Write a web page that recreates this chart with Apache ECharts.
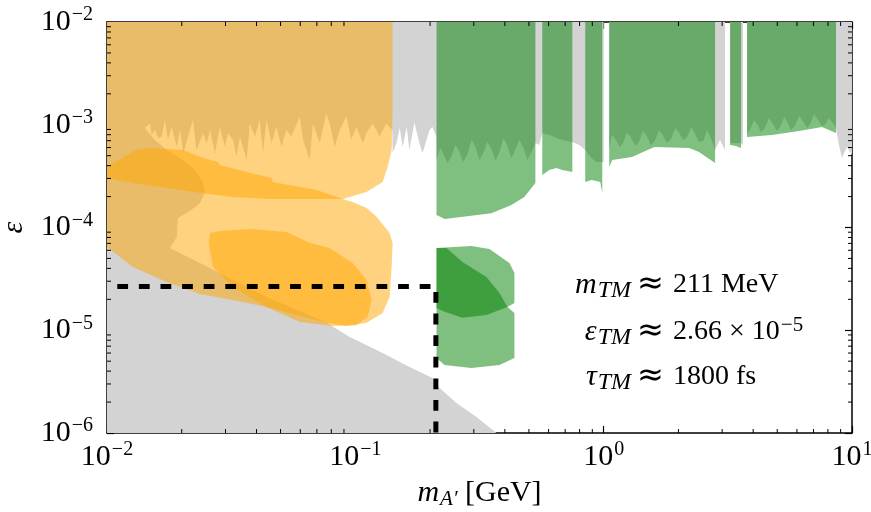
<!DOCTYPE html>
<html>
<head>
<meta charset="utf-8">
<script src="https://cdn.jsdelivr.net/npm/echarts@6.0.0/dist/echarts.min.js"></script>
<style>
html, body { margin: 0; padding: 0; background: #fff; }
#chart { width: 871px; height: 512px; }
</style>
</head>
<body>
<div id="chart"></div>
<script>
// excluded region (grey): upper band with ragged edge + low-mass wedge
var grayExcluded = [
    [0.01, 1e-2], [10, 1e-2], [10, 5.08e-4], [9.54, 6.07e-4], [9.11, 4.75e-4], [8.86, 6.35e-4],
    [8.62, 9.30e-4], [8.33, 1.05e-3], [8.07, 1.16e-3], [7.80, 1.01e-3], [7.57, 9.73e-4], [7.28, 1.12e-3], [7.03, 1.27e-3],
    [6.80, 1.02e-3], [6.59, 9.30e-4], [6.35, 1.08e-3], [6.12, 1.22e-3], [5.90, 9.80e-4], [5.68, 8.89e-4], [5.50, 1.05e-3],
    [5.33, 1.19e-3], [5.15, 9.60e-4], [4.99, 8.69e-4], [4.80, 1.02e-3], [4.63, 1.16e-3], [4.45, 9.20e-4], [4.30, 8.50e-4],
    [4.16, 1.00e-3], [4.03, 1.11e-3], [3.90, 9.10e-4],
    [3.78, 8.13e-4], [3.78, 1e-2], [3.64, 1e-2], [3.64, 6.35e-4], [3.575, 6.65e-4], [3.23, 6.65e-4],
    [3.23, 1e-2], [3.08, 1e-2], [3.08, 5.68e-4], [2.94, 7.10e-4], [2.81, 5.68e-4], [2.70, 7.40e-4], [2.61, 8.89e-4],
    [2.52, 7.00e-4], [2.42, 6.80e-4], [2.33, 8.20e-4], [2.25, 9.51e-4], [2.17, 7.60e-4], [2.09, 7.10e-4], [2.01, 8.40e-4],
    [1.94, 9.30e-4], [1.87, 7.30e-4], [1.80, 6.65e-4], [1.73, 7.90e-4], [1.67, 8.89e-4], [1.61, 7.00e-4], [1.55, 6.35e-4],
    [1.49, 7.80e-4], [1.44, 8.69e-4], [1.39, 6.80e-4], [1.34, 6.21e-4], [1.29, 7.50e-4], [1.24, 8.31e-4], [1.20, 6.70e-4],
    [1.16, 6.07e-4], [1.12, 7.10e-4], [1.08, 7.95e-4],
    [1.05, 5.68e-4], [1.05, 1e-2], [1.0, 1e-2], [1.0, 4.34e-4], [0.934, 4.34e-4], [0.892, 4.75e-4],
    [0.843, 5.68e-4], [0.798, 6.35e-4], [0.748, 6.80e-4], [0.682, 7.10e-4], [0.645, 7.43e-4], [0.604, 7.95e-4],
    [0.566, 8.31e-4], [0.55, 6.35e-4], [0.531, 6.65e-4], [0.512, 5.40e-4], [0.493, 4.54e-4], [0.475, 6.00e-4],
    [0.458, 7.10e-4], [0.441, 5.70e-4], [0.425, 4.75e-4], [0.410, 6.10e-4], [0.395, 7.43e-4], [0.381, 5.50e-4],
    [0.367, 4.44e-4], [0.353, 5.80e-4], [0.340, 6.80e-4], [0.328, 5.30e-4], [0.316, 4.54e-4], [0.305, 6.00e-4],
    [0.294, 7.10e-4], [0.283, 5.20e-4], [0.272, 4.34e-4], [0.262, 5.50e-4], [0.253, 6.35e-4], [0.244, 4.90e-4],
    [0.235, 4.24e-4], [0.227, 5.10e-4], [0.220, 5.94e-4], [0.212, 4.54e-4], [0.212, 7.60e-4], [0.2045, 9.51e-4],
    [0.199, 8.89e-4], [0.1865, 5.31e-4], [0.181, 6.65e-4], [0.173, 1.06e-3], [0.165, 5.68e-4], [0.161, 9.51e-4],
    [0.155, 6.07e-4], [0.151, 9.30e-4], [0.1466, 6.65e-4], [0.1413, 5.31e-4],
    [0.1409, 8.89e-4], [0.1332, 1.03e-3], [0.1252, 7.65e-4], [0.1177, 1.03e-3], [0.1107, 8.25e-4], [0.1073, 6.60e-4],
    [0.1009, 9.57e-4], [0.0963, 7.10e-4], [0.0920, 1.20e-3], [0.0865, 8.89e-4], [0.0826, 6.11e-4], [0.0788, 1.03e-3],
    [0.0764, 1.29e-3], [0.0719, 6.60e-4], [0.0675, 1.03e-3], [0.0655, 4.54e-4], [0.0616, 7.10e-4], [0.0597, 1.20e-3],
    [0.0553, 7.65e-4], [0.0528, 8.89e-4], [0.0504, 6.11e-4], [0.0481, 9.57e-4], [0.0460, 6.60e-4], [0.0439, 1.11e-3],
    [0.0425, 5.27e-4], [0.0412, 1.11e-3], [0.0394, 7.65e-4], [0.0376, 1.03e-3], [0.0365, 4.54e-4], [0.0343, 7.65e-4],
    [0.0332, 4.89e-4], [0.0322, 7.10e-4], [0.0307, 8.25e-4], [0.0298, 6.11e-4], [0.0285, 9.57e-4], [0.0272, 5.27e-4],
    [0.0260, 8.89e-4], [0.0252, 6.60e-4], [0.0244, 8.25e-4], [0.0229, 5.68e-4], [0.0222, 1.11e-3], [0.0212, 7.65e-4],
    [0.0203, 5.27e-4], [0.0197, 8.89e-4], [0.0191, 6.11e-4], [0.0182, 9.57e-4], [0.0176, 7.10e-4], [0.0171, 1.11e-3],
    [0.0166, 7.65e-4], [0.0161, 7.40e-4], [0.0156, 8.89e-4], [0.0151, 7.95e-4], [0.0149, 1.03e-3],
    [0.0142, 9.30e-4], [0.0156, 7.10e-4], [0.0174, 5.68e-4], [0.0202, 4.54e-4], [0.0226, 3.63e-4], [0.0243, 2.77e-4],
    [0.0248, 2.22e-4], [0.0237, 1.73e-4], [0.0216, 1.45e-4], [0.0193, 1.24e-4], [0.0191, 8.08e-5], [0.0179, 6.32e-5],
    [0.0237, 4.52e-5], [0.0321, 3.08e-5], [0.0440, 2.11e-5], [0.0597, 1.54e-5], [0.0767, 1.18e-5], [0.0949, 8.60e-6],
    [0.1288, 6.01e-6], [0.1653, 4.39e-6], [0.2045, 3.43e-6], [0.2183, 2.74e-6], [0.2554, 1.96e-6], [0.3075, 1.43e-6],
    [0.370, 1e-6], [0.01, 1e-6]
];

// orange regions (drawn half transparent)
var orangeA = [
    [0.01, 1e-2], [0.1413, 1e-2], [0.1413, 1.39e-3], [0.1400, 5.68e-4], [0.1349, 3.88e-4], [0.1288, 2.77e-4],
    [0.1110, 2.22e-4], [0.0889, 1.89e-4], [0.0597, 1.89e-4], [0.0440, 1.89e-4], [0.0321, 1.98e-4],
    [0.0237, 2.17e-4], [0.0174, 2.42e-4], [0.0127, 2.71e-4], [0.01, 3.03e-4]
];
var orangeB = [
    [0.01, 3.88e-4], [0.0130, 5.68e-4], [0.0149, 5.94e-4], [0.0202, 5.68e-4], [0.0237, 4.86e-4], [0.0280, 4.34e-4],
    [0.0285, 4.06e-4], [0.0376, 3.39e-4], [0.0461, 3.03e-4], [0.0465, 2.77e-4], [0.0597, 2.48e-4], [0.0699, 2.32e-4],
    [0.0889, 1.89e-4], [0.0975, 1.77e-4], [0.1110, 1.55e-4], [0.1218, 1.27e-4], [0.1374, 8.84e-5], [0.1413, 7.07e-5],
    [0.1400, 4.13e-5], [0.1374, 2.11e-5], [0.1288, 1.47e-5], [0.1110, 1.18e-5], [0.0923, 1.10e-5], [0.0767, 1.18e-5],
    [0.0597, 1.38e-5], [0.0440, 1.68e-5], [0.0321, 1.97e-5], [0.0237, 2.25e-5], [0.0174, 2.95e-5], [0.0127, 4.13e-5],
    [0.01, 6.46e-5]
];
var orangeC = [
    [0.0260, 8.84e-5], [0.0285, 9.25e-5], [0.0376, 9.67e-5], [0.0530, 9.04e-5], [0.0655, 7.07e-5], [0.0788, 6.32e-5],
    [0.0975, 4.52e-5], [0.1110, 3.08e-5], [0.1163, 1.97e-5], [0.1121, 1.35e-5], [0.1012, 1.12e-5], [0.0810, 1.10e-5],
    [0.0597, 1.20e-5], [0.0440, 1.68e-5], [0.0321, 2.64e-5], [0.0267, 4.13e-5], [0.0257, 7.07e-5]
];

// green regions (half transparent)
var greenA = [[0.2123, 1e-2], [0.531, 1e-2], [0.531, 2.71e-4], [0.479, 1.98e-4], [0.425, 1.66e-4], [0.353, 1.38e-4], [0.229, 1.21e-4], [0.2123, 1.32e-4]];
var greenB = [[0.566, 1e-2], [0.748, 1e-2], [0.748, 3.47e-4], [0.682, 3.63e-4], [0.645, 3.79e-4], [0.604, 3.63e-4], [0.566, 3.24e-4]];
var greenC = [[0.843, 1e-2], [0.987, 1e-2], [0.987, 2.17e-4], [0.969, 2.77e-4], [0.934, 2.84e-4], [0.892, 2.90e-4], [0.843, 2.77e-4]];
var greenD = [[1.053, 1e-2], [2.81, 1e-2], [2.81, 4.24e-4], [2.42, 5.43e-4], [2.21, 5.94e-4], [1.60, 6.07e-4], [1.30, 4.86e-4], [1.083, 4.54e-4], [1.053, 3.88e-4]];
var greenE = [[3.23, 1e-2], [3.575, 1e-2], [3.575, 5.94e-4], [3.41, 6.21e-4], [3.23, 6.35e-4]];
var greenF = [[3.78, 1e-2], [8.62, 1e-2], [8.62, 8.31e-4], [7.57, 9.51e-4], [6.12, 8.69e-4], [4.76, 7.95e-4], [3.78, 7.60e-4]];
var greenBlobUp = [[0.2123, 6.32e-5], [0.2935, 6.61e-5], [0.3467, 6.18e-5], [0.4174, 4.52e-5], [0.4371, 3.61e-5], [0.4371, 1.84e-5], [0.4098, 1.68e-5], [0.3372, 1.41e-5], [0.2700, 1.32e-5], [0.2286, 1.51e-5], [0.2123, 1.65e-5]];
var greenBlobLow = [[0.2123, 6.32e-5], [0.2329, 6.32e-5], [0.2700, 4.62e-5], [0.3372, 3.30e-5], [0.3804, 2.31e-5], [0.4098, 1.68e-5], [0.4371, 1.47e-5], [0.4371, 5.37e-6], [0.3804, 4.59e-6], [0.2935, 4.29e-6], [0.2286, 4.59e-6], [0.2123, 5.37e-6]];

// true muonium point
var tmMass = 0.211;
var tmEps = 2.66e-5;
var tmLine = [[0.011, tmEps], [tmMass, tmEps], [tmMass, 1e-6]];

var xMinorTicks = [0.02, 0.03, 0.04, 0.05, 0.06, 0.07, 0.08, 0.09, 0.2, 0.3, 0.4, 0.5, 0.6, 0.7, 0.8, 0.9, 2, 3, 4, 5, 6, 7, 8, 9];
var yMinorTicks = [2e-6, 3e-6, 4e-6, 5e-6, 6e-6, 7e-6, 8e-6, 9e-6, 2e-5, 3e-5, 4e-5, 5e-5, 6e-5, 7e-5, 8e-5, 9e-5,
    2e-4, 3e-4, 4e-4, 5e-4, 6e-4, 7e-4, 8e-4, 9e-4, 2e-3, 3e-3, 4e-3, 5e-3, 6e-3, 7e-3, 8e-3, 9e-3];

var serif = 'Liberation Serif';
var GRAY = '#d3d3d3';
var ORANGE = 'rgba(255,165,0,0.5)';
var GREEN = 'rgba(0,128,0,0.5)';

function polySeries(pts, color) {
    return {
        type: 'custom',
        coordinateSystem: 'cartesian2d',
        clip: true,
        silent: true,
        data: pts,
        renderItem: function (params, api) {
            if (params.dataIndex !== 0) return null;
            return {
                type: 'polygon',
                shape: { points: pts.map(function (p) { return api.coord(p); }) },
                style: { fill: color, stroke: null }
            };
        }
    };
}

function decadeLabel(v) {
    var e = Math.round(Math.log10(v));
    return '{b|10}{s|' + (e < 0 ? '\u2212' + (-e) : e) + '}';
}

var tickRich = {
    b: { fontFamily: serif, fontSize: 30, color: '#000' },
    s: { fontFamily: serif, fontSize: 20, color: '#000', padding: [0, 0, 14, 1] }
};

function frameAxis(pos, extra) {
    var a = {
        type: 'log',
        logBase: 10,
        position: pos,
        axisLine: { show: true, onZero: false, lineStyle: { color: '#000', width: 1.5 } },
        axisTick: { show: true, inside: true, length: 7, lineStyle: { color: '#000', width: 1.2 } },
        axisLabel: { show: false },
        splitLine: { show: false },
        minorTick: { show: false }
    };
    return Object.assign(a, extra);
}

var myChart = echarts.init(document.getElementById('chart'));

var series = [
    polySeries(grayExcluded, GRAY),
    polySeries(orangeA, ORANGE),
    polySeries(orangeB, ORANGE),
    polySeries(orangeC, ORANGE),
    polySeries(greenA, GREEN),
    polySeries(greenB, GREEN),
    polySeries(greenC, GREEN),
    polySeries(greenD, GREEN),
    polySeries(greenE, GREEN),
    polySeries(greenF, GREEN),
    polySeries(greenBlobUp, GREEN),
    polySeries(greenBlobLow, GREEN),
    {
        type: 'line',
        data: tmLine,
        symbol: 'none',
        silent: true,
        z: 5,
        lineStyle: { color: '#000', width: 5, type: [10.8, 10.8] }
    },
    {
        // minor ticks on all four sides
        type: 'custom',
        coordinateSystem: 'cartesian2d',
        clip: false,
        silent: true,
        z: 6,
        data: [[0.1, 1e-4]],
        renderItem: function (params, api) {
            var kids = [];
            var st = { stroke: '#000', lineWidth: 1 };
            xMinorTicks.forEach(function (v) {
                var b = api.coord([v, 1e-6]), t = api.coord([v, 1e-2]);
                kids.push({ type: 'line', shape: { x1: b[0], y1: b[1], x2: b[0], y2: b[1] - 4 }, style: st });
                kids.push({ type: 'line', shape: { x1: t[0], y1: t[1], x2: t[0], y2: t[1] + 4 }, style: st });
            });
            yMinorTicks.forEach(function (v) {
                var l = api.coord([0.01, v]), r = api.coord([10, v]);
                kids.push({ type: 'line', shape: { x1: l[0], y1: l[1], x2: l[0] + 4, y2: l[1] }, style: st });
                kids.push({ type: 'line', shape: { x1: r[0], y1: r[1], x2: r[0] - 4, y2: r[1] }, style: st });
            });
            return { type: 'group', children: kids };
        }
    }
];

var varRich = {
    v: { fontFamily: serif, fontStyle: 'italic', fontSize: 30, color: '#000' },
    sub: { fontFamily: serif, fontStyle: 'italic', fontSize: 24, color: '#000', padding: [12, 0, 0, 1] }
};
var valRich = {
    t: { fontFamily: serif, fontSize: 28, color: '#000' },
    s: { fontFamily: serif, fontSize: 21, color: '#000', padding: [0, 0, 14, 1] }
};

function annot(y, name, value) {
    return [
        { type: 'text', x: 631, y: y, z: 10, style: { text: '{v|' + name + '}{sub|TM}', rich: varRich, align: 'right', verticalAlign: 'middle' } },
        { type: 'text', x: 637, y: y, z: 10, style: { text: '\u2248', font: '32px "DejaVu Sans"', fill: '#000', align: 'left', verticalAlign: 'middle' } },
        { type: 'text', x: 673, y: y, z: 10, style: { text: value, rich: valRich, align: 'left', verticalAlign: 'middle' } }
    ];
}

var option = {
    animation: false,
    backgroundColor: '#fff',
    grid: { left: 107, right: 19, top: 22, bottom: 79, outerBoundsMode: 'none', containLabel: false },
    xAxis: [
        frameAxis('bottom', {
            min: 0.01, max: 10,
            name: '{i|m}{sub|A\u2032}{r| [GeV]}',
            nameLocation: 'middle',
            nameGap: 44,
            nameTextStyle: {
                rich: {
                    i: { fontFamily: serif, fontStyle: 'italic', fontSize: 30, color: '#000' },
                    sub: { fontFamily: serif, fontStyle: 'italic', fontSize: 21, color: '#000', padding: [12, 0, 0, 1] },
                    r: { fontFamily: serif, fontSize: 30, color: '#000' }
                }
            },
            axisLabel: { show: true, margin: 7, formatter: decadeLabel, rich: tickRich, showMinLabel: true, showMaxLabel: true }
        }),
        frameAxis('top', { min: 0.01, max: 10 })
    ],
    yAxis: [
        frameAxis('left', {
            min: 1e-6, max: 1e-2,
            name: '\u03b5',
            nameLocation: 'middle',
            nameRotate: 90,
            nameGap: 78,
            nameTextStyle: { fontFamily: serif, fontStyle: 'italic', fontSize: 30, color: '#000' },
            axisLabel: { show: true, margin: 14, formatter: decadeLabel, rich: tickRich, showMinLabel: true, showMaxLabel: true }
        }),
        frameAxis('right', { min: 1e-6, max: 1e-2 })
    ],
    series: series,
    graphic: [].concat(
        annot(285, 'm', '{t|211 MeV}'),
        annot(332, '\u03b5', '{t|2.66 \u00d7 10}{s|\u22125}'),
        annot(377, '\u03c4', '{t|1800 fs}')
    )
};

myChart.setOption(option);
</script>
</body>
</html>
